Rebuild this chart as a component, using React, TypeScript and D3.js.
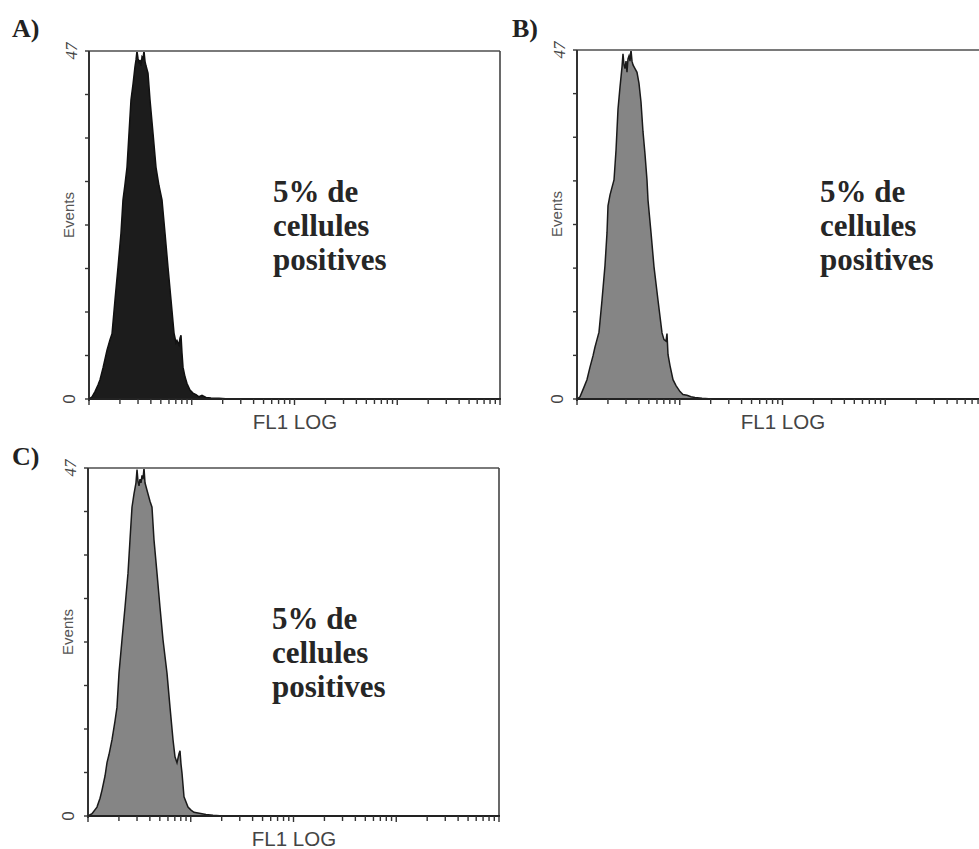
import React from "react";
import * as d3 from "d3";

// FL1 fluorescence (log channel values) and event counts for each sample
const fl1A = [1.0, 1.07, 1.144, 1.223, 1.28, 1.369, 1.497, 1.601, 1.675, 1.791, 1.915, 2.048, 2.142, 2.24, 2.343, 2.451, 2.563, 2.68, 2.803, 2.867, 2.93, 3.0, 3.066, 3.135, 3.208, 3.281, 3.354, 3.43, 3.508, 3.587, 3.752, 3.924, 4.196, 4.488, 4.8, 5.134, 5.491, 5.873, 6.281, 6.72, 7.026, 7.185, 7.514, 7.684, 7.86, 8.037, 8.219, 8.597, 8.992, 9.616, 10.28, 11.0, 11.76, 12.58, 13.76, 15.39, 18.4, 23.04];
const eventsA = [0, 0.3, 1.0, 1.9, 2.6, 4.2, 6.6, 8.0, 8.8, 13.4, 17.8, 22.4, 26.9, 29.0, 31.3, 35.9, 40.4, 42.5, 44.9, 45.8, 47.0, 46.0, 45.3, 45.8, 45.0, 46.2, 46.0, 47.0, 45.6, 45.0, 44.0, 40.4, 35.9, 31.3, 28.8, 26.9, 22.4, 17.8, 13.4, 8.9, 7.6, 7.9, 7.3, 8.2, 8.6, 6.2, 4.3, 3.0, 2.1, 1.2, 0.8, 0.6, 0.3, 0.5, 0.2, 0.15, 0.1, 0];

const fl1B = [1.0, 1.07, 1.17, 1.25, 1.338, 1.431, 1.497, 1.565, 1.637, 1.751, 1.873, 1.959, 2.003, 2.096, 2.191, 2.292, 2.397, 2.506, 2.621, 2.741, 2.803, 2.867, 2.93, 3.0, 3.066, 3.135, 3.208, 3.281, 3.354, 3.43, 3.508, 3.668, 3.837, 4.012, 4.196, 4.388, 4.589, 4.8, 4.909, 5.251, 5.616, 6.143, 6.72, 7.026, 7.348, 7.514, 7.684, 8.037, 8.597, 9.194, 10.06, 10.75, 11.76, 12.87, 14.07, 16.46, 20.6];
const eventsB = [0, 0.3, 1.6, 2.6, 4.3, 5.8, 7.0, 8.0, 9.0, 13.3, 18.0, 22.4, 26.0, 27.5, 28.5, 29.5, 33.5, 39.0, 42.0, 44.7, 46.5, 45.0, 44.5, 45.5, 44.0, 45.8, 46.2, 45.5, 47.0, 45.5, 45.0, 44.5, 44.0, 42.5, 40.0, 36.0, 33.0, 29.5, 26.8, 22.4, 17.8, 13.3, 8.9, 8.0, 7.8, 8.8, 6.0, 4.5, 2.6, 1.8, 1.0, 0.6, 0.5, 0.3, 0.2, 0.1, 0];

const fl1C = [1.0, 1.094, 1.223, 1.309, 1.369, 1.464, 1.531, 1.601, 1.713, 1.831, 1.915, 2.003, 2.142, 2.292, 2.451, 2.563, 2.68, 2.803, 2.93, 3.0, 3.066, 3.135, 3.208, 3.281, 3.354, 3.43, 3.508, 3.587, 3.752, 4.012, 4.196, 4.388, 4.694, 5.02, 5.37, 5.873, 6.281, 6.72, 7.026, 7.348, 7.684, 7.86, 8.037, 8.219, 8.597, 9.402, 10.06, 10.75, 11.76, 12.87, 14.07, 16.46, 20.6];
const eventsC = [0, 0.3, 1.2, 2.4, 3.5, 5.4, 7.2, 8.3, 10.3, 12.8, 14.7, 19.3, 23.8, 28.2, 32.8, 37.3, 41.7, 43.5, 45.0, 46.8, 45.2, 44.6, 45.5, 45.0, 46.0, 45.5, 47.0, 45.0, 44.0, 42.5, 41.7, 37.3, 32.8, 28.2, 23.8, 19.3, 14.7, 10.3, 8.0, 7.2, 8.4, 8.8, 7.0, 5.8, 2.6, 1.2, 0.8, 0.5, 0.4, 0.3, 0.2, 0.1, 0];

// Axis settings and labels
const fl1Domain = [1, 10000];
const eventsMax = 47;
const yTickLabels = ["0", "47"];
const yTickCount = 8;
const yTitle = "Events";
const xTitle = "FL1 LOG";
const noteLines = ["5% de", "cellules", "positives"];
const panelLabels = ["A)", "B)", "C)"];

const SANS = "'Liberation Sans', Arial, Helvetica, sans-serif";
const SERIF = "'Liberation Serif', 'Times New Roman', Times, serif";

type PanelProps = {
  left: number;
  top: number;
  width: number;
  height: number;
  fl1: number[];
  events: number[];
  fill: string;
  stroke: string;
  label: string;
  labelDx: number;
  labelDy: number;
  noteDx: number;
  noteDy: number;
};

function Panel(p: PanelProps) {
  const x = d3.scaleLog().domain(fl1Domain).range([0, p.width]);
  const y = d3.scaleLinear().domain([0, eventsMax]).range([p.height, 0]);
  const area = d3
    .area<number>()
    .x((_, i) => x(p.fl1[i]))
    .y0(p.height)
    .y1((d) => y(d));
  const outline = d3
    .line<number>()
    .x((_, i) => x(p.fl1[i]))
    .y((d) => y(d));
  const xTicks = x.ticks();
  const yTicks = d3.range(yTickCount + 1).map((i) => (eventsMax * i) / yTickCount);

  return (
    <g transform={`translate(${p.left},${p.top})`}>
      <text
        x={p.labelDx}
        y={p.labelDy}
        fontFamily={SERIF}
        fontWeight="bold"
        fontSize={26}
        fill="#222"
      >
        {p.label}
      </text>

      {/* histogram */}
      <path d={area(p.events) ?? ""} fill={p.fill} />
      <path d={outline(p.events) ?? ""} fill="none" stroke={p.stroke} strokeWidth={1.5} />

      {/* frame */}
      <line x1={0} y1={0} x2={p.width} y2={0} stroke="#7a7a7a" strokeWidth={2} />
      <line x1={p.width} y1={0} x2={p.width} y2={p.height} stroke="#444" strokeWidth={1.6} />
      <line x1={0} y1={0} x2={0} y2={p.height + 2} stroke="#333" strokeWidth={2} />
      <line x1={-1} y1={p.height} x2={p.width + 1} y2={p.height} stroke="#222" strokeWidth={2} />

      {/* y ticks */}
      {yTicks.map((t, i) => (
        <line key={`yt${i}`} x1={-4} x2={0} y1={y(t)} y2={y(t)} stroke="#333" strokeWidth={1.4} />
      ))}
      {/* x ticks */}
      {xTicks.map((t, i) => {
        const decade = Math.abs(Math.log10(t) - Math.round(Math.log10(t))) < 1e-9;
        return (
          <line
            key={`xt${i}`}
            x1={x(t)}
            x2={x(t)}
            y1={p.height}
            y2={p.height + (decade ? 6 : 5)}
            stroke="#333"
            strokeWidth={1.4}
          />
        );
      })}

      {/* axis labels */}
      <text
        transform={`translate(-14,${y(0)}) rotate(-90)`}
        textAnchor="middle"
        fontFamily={SANS}
        fontSize={17}
        fill="#444"
      >
        {yTickLabels[0]}
      </text>
      <text
        transform={`translate(-12,${y(eventsMax)}) rotate(-90)`}
        textAnchor="middle"
        fontFamily={SERIF}
        fontStyle="italic"
        fontSize={17}
        fill="#444"
      >
        {yTickLabels[1]}
      </text>
      <text
        transform={`translate(-15,164) rotate(-90)`}
        textAnchor="middle"
        fontFamily={SANS}
        fontSize={15}
        fill="#555"
      >
        {yTitle}
      </text>
      <text
        x={206}
        y={p.height + 30}
        textAnchor="middle"
        fontFamily={SANS}
        fontSize={20.5}
        fill="#444"
      >
        {xTitle}
      </text>

      {/* annotation */}
      {noteLines.map((s, i) => (
        <text
          key={`n${i}`}
          x={p.noteDx}
          y={p.noteDy + i * 34}
          fontFamily={SERIF}
          fontWeight="bold"
          fontSize={31}
          fill="#262626"
        >
          {s}
        </text>
      ))}
    </g>
  );
}

export default function App() {
  return (
    <svg
      width={979}
      height={849}
      style={{ position: "absolute", left: 0, top: 0, background: "#fff" }}
    >
      <rect width={979} height={849} fill="#fff" />
      <Panel
        left={89}
        top={51}
        width={411}
        height={348}
        fl1={fl1A}
        events={eventsA}
        fill="#1c1c1c"
        stroke="#111"
        label={panelLabels[0]}
        labelDx={-77}
        labelDy={-14}
        noteDx={184}
        noteDy={151}
      />
      <Panel
        left={577}
        top={50}
        width={411}
        height={349}
        fl1={fl1B}
        events={eventsB}
        fill="#858585"
        stroke="#1a1a1a"
        label={panelLabels[1]}
        labelDx={-65}
        labelDy={-13}
        noteDx={243}
        noteDy={152}
      />
      <Panel
        left={88}
        top={468}
        width={411}
        height={348}
        fl1={fl1C}
        events={eventsC}
        fill="#858585"
        stroke="#1a1a1a"
        label={panelLabels[2]}
        labelDx={-76}
        labelDy={-3}
        noteDx={184}
        noteDy={161}
      />
    </svg>
  );
}
